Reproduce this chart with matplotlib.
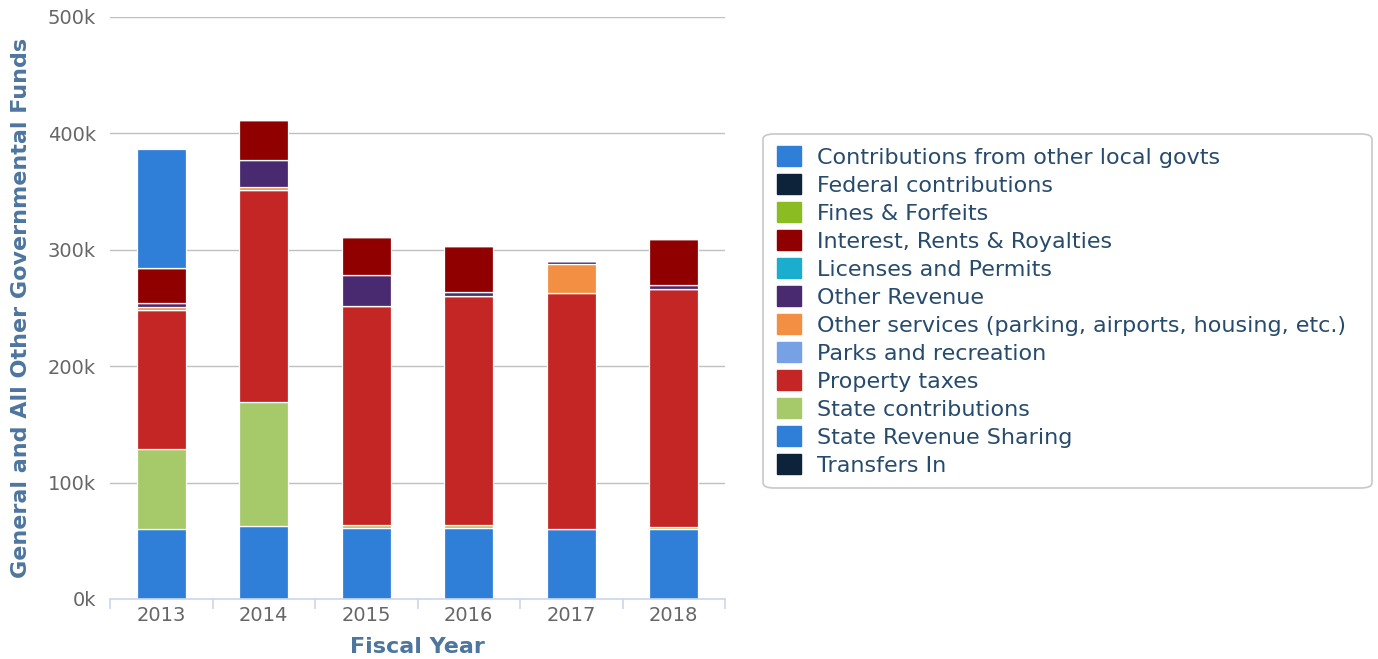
import matplotlib
matplotlib.use("Agg")
import matplotlib.pyplot as plt
from matplotlib.patches import Patch, FancyBboxPatch
from matplotlib.ticker import FixedLocator, FuncFormatter
import numpy as np

# --- data (thousands of dollars) ------------------------------------------
years = ["2013", "2014", "2015", "2016", "2017", "2018"]
series_names = [
    "Contributions from other local govts",
    "Federal contributions",
    "Fines & Forfeits",
    "Interest, Rents & Royalties",
    "Licenses and Permits",
    "Other Revenue",
    "Other services (parking, airports, housing, etc.)",
    "Parks and recreation",
    "Property taxes",
    "State contributions",
    "State Revenue Sharing",
    "Transfers In",
]
colors = ["#2f7ed8", "#0d233a", "#8bbc21", "#910000", "#1aadce", "#492970",
          "#f28f43", "#77a1e5", "#c42525", "#a6c96a", "#2f7ed8", "#0d233a"]

contrib_local = [103, 0, 0, 0, 0, 0]
federal = [0, 0, 0, 0, 0, 0]
fines = [0, 0, 0, 0, 0, 0]
interest = [30, 34.5, 33, 39, 0, 39.5]
licenses = [0, 0, 0, 0, 0, 0]
other_rev = [3, 23, 26, 4, 2.5, 3.5]
other_services = [3, 2.5, 0, 0, 24.5, 0]
parks = [0, 0, 0, 0, 0, 0]
property_taxes = [119, 182.5, 188, 196, 203, 204]
state_contrib = [69, 106.5, 3, 3, 0, 2]
state_rev_sharing = [60, 62.5, 61, 61, 60, 60]
transfers_in = [0, 0, 0, 0, 0, 0]

values = [contrib_local, federal, fines, interest, licenses, other_rev,
          other_services, parks, property_taxes, state_contrib,
          state_rev_sharing, transfers_in]

LABEL = "#666666"
TITLE = "#4d759e"
LEGEND_TXT = "#274b6d"
AXIS = "#ccd6eb"
GRID = "#c0c0c0"

plt.rcParams["font.family"] = "DejaVu Sans"

W, H = 1378, 659
fig = plt.figure(figsize=(W / 100, H / 100), dpi=100)
ax = fig.add_axes([110 / W, 1 - 599 / H, 615 / W, 582 / H])

x = np.arange(len(years))
bottom = np.zeros(len(years))
# Highcharts stacks the first series on top, so draw from the last one up
for name, vals, c in reversed(list(zip(series_names, values, colors))):
    v = np.array(vals, dtype=float)
    ax.bar(x, v, bottom=bottom, width=0.48, color=c, edgecolor="white",
           linewidth=0.9, zorder=3)
    bottom += v

ax.set_xlim(-0.5, len(years) - 0.5)
ax.set_ylim(0, 500)
ax.yaxis.set_major_locator(FixedLocator([0, 100, 200, 300, 400, 500]))
ax.yaxis.set_major_formatter(FuncFormatter(lambda v, _: f"{int(v)}k"))
ax.set_xticks(x)
ax.set_xticklabels(years)
ax.xaxis.set_minor_locator(FixedLocator(np.arange(-0.5, len(years), 1.0)))
ax.tick_params(axis="x", which="major", length=0, pad=5, labelsize=14,
               labelcolor=LABEL)
ax.tick_params(axis="x", which="minor", length=7, color=AXIS, width=1.2)
ax.tick_params(axis="y", length=0, pad=10, labelsize=14, labelcolor=LABEL)

ax.grid(axis="y", color=GRID, lw=1.0, zorder=0)
for s in ("top", "right", "left"):
    ax.spines[s].set_visible(False)
ax.spines["bottom"].set_color(AXIS)
ax.spines["bottom"].set_linewidth(1.2)
ax.spines["bottom"].set_zorder(4)

ax.set_xlabel("Fiscal Year", fontsize=16, fontweight="bold", color=TITLE,
              labelpad=9)
ax.set_ylabel("General and All Other Governmental Funds", fontsize=16,
              fontweight="bold", color=TITLE, labelpad=12)

# legend frame drawn by hand (Highcharts pads the right side more)
fig.patches.append(FancyBboxPatch(
    (763 / W, 1 - 488 / H), 609 / W, 354 / H,
    boxstyle="round,pad=0,rounding_size=0.008", transform=fig.transFigure,
    facecolor="white", edgecolor="#c8c8c8", linewidth=1.2, zorder=0))

handles = [Patch(facecolor=c, edgecolor=c, label=n)
           for n, c in zip(series_names, colors)]
leg = fig.legend(handles=handles, loc="center left",
                 bbox_to_anchor=(777 / W, 1 - 311 / H), fontsize=16,
                 frameon=False, handlelength=1.1,
                 handleheight=1.0, handletextpad=0.72, labelspacing=0.29,
                 borderpad=0.0, borderaxespad=0)
for t in leg.get_texts():
    t.set_color(LEGEND_TXT)

fig.savefig("out.png", dpi=100, facecolor="white")
